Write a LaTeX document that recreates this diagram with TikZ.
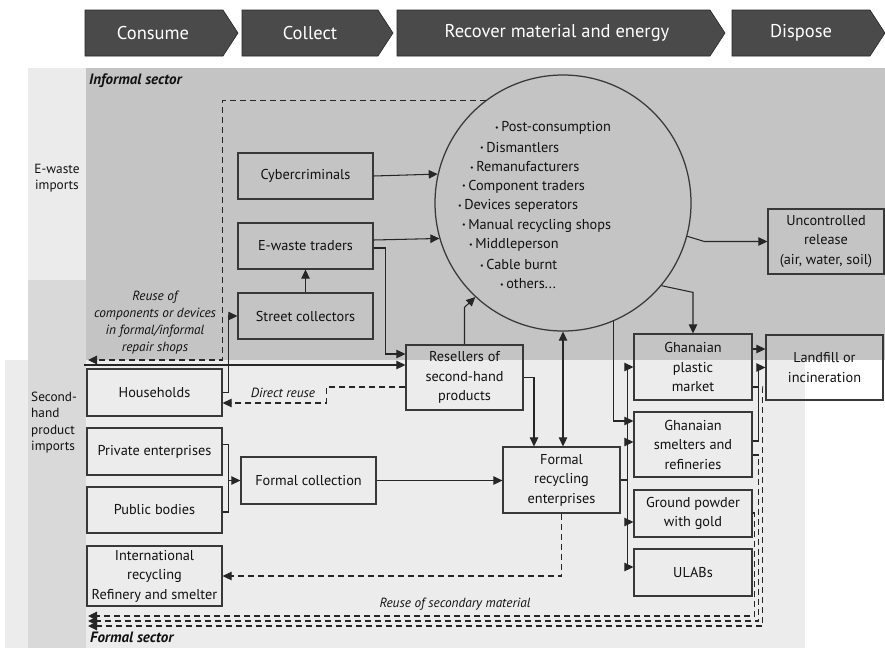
\documentclass[tikz,border=0pt]{standalone}
\usepackage{fontspec}
\setmainfont{PT Sans}
\usetikzlibrary{arrows.meta,calc}
\definecolor{informalc}{HTML}{C4C4C4}
\definecolor{formalc}{HTML}{ECECEC}
\definecolor{ewc}{HTML}{EBEBEB}
\definecolor{shc}{HTML}{D9D9D9}
\definecolor{banc}{HTML}{4A4A4A}
\definecolor{boxc}{HTML}{383838}
\definecolor{linec}{HTML}{262626}
\definecolor{txtc}{HTML}{111111}
\newcommand{\bxfont}{\fontsize{14.3}{19.5}\selectfont}
\newcommand{\lbfont}{\fontsize{13.3}{16.5}\selectfont}
\newcommand{\bul}{{\fontsize{8}{8}\selectfont\raisebox{1.5pt}{•}}\hspace{2.5pt}}
\begin{document}
\begin{tikzpicture}[x=1pt,y=-1pt,
  box/.style={draw=boxc, line width=1.25pt, inner sep=0pt, align=center, font=\bxfont, text=txtc},
  ctext/.style={anchor=west, inner sep=0pt, font=\bxfont, text=txtc},
  lab/.style={inner sep=0pt, font=\lbfont, text=txtc},
  ital/.style={inner sep=0pt, font=\lbfont\itshape, text=txtc, align=center},
  bant/.style={inner sep=0pt, font=\fontsize{18.5}{20}\selectfont, text=white},
  con/.style={draw=linec, line width=1.05pt},
  arr/.style={con, -{Triangle[length=9pt,width=8.5pt]}},
  darr/.style={arr, dash pattern=on 6pt off 4pt},
  dcon/.style={con, dash pattern=on 6pt off 4pt}]
\useasboundingbox (0,0) rectangle (885,648);
% backgrounds
\fill[ewc] (28,68) rectangle (86,280);
\fill[formalc] (5,360) rectangle (805,648);
\fill[shc] (28,280) rectangle (86,648);
\fill[informalc] (86,68) rectangle (885,360);
% banner
\foreach \a/\b in {85/223, 242/378, 397/710, 732/870}
  \filldraw[fill=banc, draw=black!85, line width=0.6pt] (\a,10) -- (\b,10) -- (\b+15,33) -- (\b,56) -- (\a,56) -- cycle;
\node[bant] (bcons) at (153,33) {Consume};
\node[bant] (bcoll) at (310,33) {Collect};
\node[bant] (brec) at (557,33) {Recover material and energy};
\node[bant] (bdisp) at (801,33) {Dispose};
% sector labels
\node[inner sep=0pt, anchor=west, font=\fontsize{15}{16}\selectfont\bfseries\itshape, text=txtc] (infs) at (89,81) {Informal sector};
\node[inner sep=0pt, anchor=west, font=\fontsize{15}{16}\selectfont\bfseries\itshape, text=txtc] (fors) at (90,637) {Formal sector};
\node[lab, align=center] (ewi) at (57,178) {E-waste\\imports};
\node[lab, align=left, anchor=west] (shi) at (31,422.5) {Second-\\hand\\product\\imports};
% boxes
\node[box, minimum width=135pt, minimum height=46pt] (cyber) at (305.5,176) {Cybercriminals};
\node[box, minimum width=135pt, minimum height=46pt] (etr) at (305.5,246) {E-waste traders};
\node[box, minimum width=135pt, minimum height=46pt] (street) at (305.5,316) {Street collectors};
\node[box, minimum width=135pt, minimum height=47pt] (house) at (154.5,392.5) {Households};
\node[box, minimum width=135pt, minimum height=47pt] (priv) at (154.5,451.5) {Private enterprises};
\node[box, minimum width=135pt, minimum height=46pt] (pub) at (154.5,510) {Public bodies};
\node[box, minimum width=135pt, minimum height=60pt] (intl) at (154.5,576) {International\\recycling\\Refinery and smelter};
\node[box, minimum width=135pt, minimum height=47pt] (fcoll) at (308.5,480.5) {Formal collection};
\node[box, minimum width=117pt, minimum height=65pt] (resell) at (464.5,377.5) {Resellers of\\second-hand\\products};
\node[box, minimum width=117pt, minimum height=66pt] (frec) at (561.5,480) {Formal\\recycling\\enterprises};
\node[box, minimum width=118pt, minimum height=66pt] (gplast) at (693,367) {Ghanaian\\plastic\\market};
\node[box, minimum width=118pt, minimum height=65pt] (gsmelt) at (693,444.5) {Ghanaian\\smelters and\\refineries};
\node[box, minimum width=118pt, minimum height=47pt] (gpow) at (693,513.5) {Ground powder\\with gold};
\node[box, minimum width=118pt, minimum height=47pt] (ulab) at (693,572.5) {ULABs};
\node[box, minimum width=117pt, minimum height=65pt] (land) at (824.5,367.5) {Landfill or\\incineration};
\node[box, minimum width=116pt, minimum height=65pt] (unc) at (826,241.5) {Uncontrolled\\release\\(air, water, soil)};
% circle
\node[circle, draw=boxc, line width=1.25pt, minimum size=256pt, inner sep=0pt] (circ) at (563,203) {};
\node[ctext] (c1) at (495,128) {\bul Post-consumption};
\node[ctext] (c2) at (480,147.5) {\bul Dismantlers};
\node[ctext] (c3) at (470,167) {\bul Remanufacturers};
\node[ctext] (c4) at (462,186.5) {\bul Component traders};
\node[ctext] (c5) at (458,206) {\bul Devices seperators};
\node[ctext] (c6) at (462,225.5) {\bul Manual recycling shops};
\node[ctext] (c7) at (469,245) {\bul Middleperson};
\node[ctext] (c8) at (480,264.5) {\bul Cable burnt};
\node[ctext] (c9) at (500,284) {\bul others...};
% italic labels
\node[ital, font=\fontsize{13.3}{17}\selectfont\itshape] (lreuse) at (155,322.5) {Reuse of\\components or devices\\in formal/informal\\repair shops};
\node[ital] (ldirect) at (283,393) {Direct reuse};
\node[ital] (lsec) at (455,604) {Reuse of secondary material};
% free ends
\coordinate (imp) at (84,365);
\coordinate (rce) at (88,360);
\coordinate (e1) at (88,616);
\coordinate (e2) at (88,621);
\coordinate (e3) at (88,626);
% connectors
\draw[arr] (cyber.east) -- (circ.167.8);
\draw[arr] ([yshift=6pt]etr.east) -- (circ.196.8);
\draw[arr] ([yshift=-2pt]etr.east) -- ++(12,0) |- ([yshift=23.5pt]resell.west);
\draw[arr] (street.north) -- (etr.south);
\draw[arr] (house.east) -- ++(6,0) |- (street.west);
\draw[arr] (imp) -- (imp -| resell.west);
\draw[arr] (resell.north) -- ++(0,-37) -- (circ.227);
\draw[darr] ([yshift=-9.5pt]resell.west) -- ++(-79,0) |- ([yshift=-10.5pt]house.east);
\draw[arr] (resell.east) -| ([xshift=-27.5pt]frec.north);
\draw[con, {Triangle[length=9pt,width=8.5pt]}-{Triangle[length=9pt,width=8.5pt]}] (circ.south) -- (circ.south |- frec.north);
\draw[arr] (circ.293.2) |- ([yshift=23.5pt]gsmelt.west);
\draw[arr] (circ.320.6) -- ($(gplast.north)+(0,-41)$) -- (gplast.north);
\draw[arr] (circ.345.1) -- ($(unc.west)+(-63,0)$) -- (unc.west);
\coordinate (bus) at ($(frec.east)+(7,0)$);
\draw[con] (frec.east) -- (bus);
\draw[arr] (bus) |- (gplast.west);
\draw[arr] (bus) |- ([yshift=2.5pt]gsmelt.west);
\draw[arr] (bus) |- ([yshift=-8.5pt]gpow.west);
\draw[arr] (bus) |- ([yshift=5.5pt]ulab.west);
\coordinate (gpe) at ([yshift=18pt]gplast.east);
\draw[arr] (gpe) -- (gpe -| land.west);
\draw[arr] ([yshift=3.5pt]gsmelt.east) -- ++(6,0) |- (land.west);
\draw[darr] ([yshift=0.5pt]gpow.east) -- ++(2,0) |- (e1);
\draw[darr] ([yshift=-10.5pt]gsmelt.east) -- ++(6,0) |- (e2);
\draw[darr] ([yshift=-20pt]gplast.east) -- ++(10,0) |- (e3);
\draw[darr] (frec.south) |- (intl.east);
\draw[darr] (circ.127.9) -| ($(house.east)+(0,-32.5)$) -- (rce);
\draw[con] ([yshift=7pt]priv.east) -- ++(6,0) |- ([yshift=-2pt]pub.east);
\coordinate (pcx) at ([xshift=6pt]pub.east);
\draw[arr] (pcx |- fcoll.west) -- (fcoll.west);
\draw[arr] (fcoll.east) -- (fcoll.east -| frec.west);
\end{tikzpicture}
\end{document}
